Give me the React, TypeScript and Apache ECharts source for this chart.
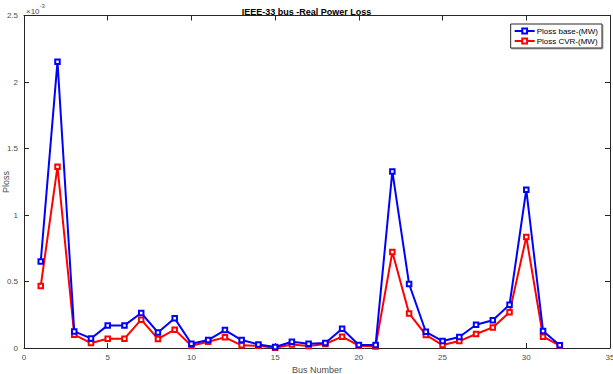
import React, { useEffect, useRef } from "react";
import * as echarts from "echarts";

const buses = Array.from({ length: 32 }, (_, i) => i + 1);
const plossBase = [0.651, 2.153, 0.125, 0.072, 0.17, 0.17, 0.263, 0.117, 0.223, 0.032, 0.06, 0.135, 0.06, 0.027, 0.008, 0.047, 0.032, 0.037, 0.145, 0.022, 0.022, 1.328, 0.481, 0.122, 0.052, 0.083, 0.175, 0.208, 0.326, 1.19, 0.128, 0.02];
const plossCvr = [0.466, 1.363, 0.1, 0.037, 0.07, 0.07, 0.213, 0.068, 0.138, 0.017, 0.047, 0.08, 0.02, 0.017, 0.002, 0.027, 0.015, 0.03, 0.085, 0.017, 0.012, 0.722, 0.26, 0.098, 0.022, 0.052, 0.105, 0.155, 0.268, 0.835, 0.085, 0.017];
const seriesNames = ["Ploss base-(MW)", "Ploss CVR-(MW)"];
const seriesColors = ["#0000ff", "#ff0000"];

const FONT = "Liberation Sans, Arial, sans-serif";
const AXIS_COLOR = "#262626";
const LABEL_COLOR = "#4d4d4d";

export default function App() {
  const ref = useRef<HTMLDivElement>(null);
  useEffect(() => {
    if (!ref.current) return;
    const chart = echarts.init(ref.current, undefined, { renderer: "svg" });
    const axisCommon = {
      type: "value" as const,
      axisLine: { show: true, onZero: false, lineStyle: { color: AXIS_COLOR, width: 1 } },
      axisTick: { show: true, inside: true, length: 5, lineStyle: { color: AXIS_COLOR } },
      splitLine: { show: false },
    };
    chart.setOption({
      animation: false,
      backgroundColor: "#ffffff",
      title: {
        text: "IEEE-33 bus -Real Power Loss",
        left: "center",
        top: 2,
        textStyle: { fontFamily: FONT, fontSize: 9, fontWeight: "bold", color: "#000" },
      },
      legend: {
        data: seriesNames,
        orient: "vertical",
        right: 11,
        top: 24,
        itemWidth: 20,
        itemHeight: 6,
        itemGap: 2,
        padding: [3, 4, 3, 3],
        borderColor: "#262626",
        borderWidth: 1,
        backgroundColor: "#fff",
        shadowColor: "rgba(0,0,0,0.3)",
        shadowOffsetX: 1,
        shadowOffsetY: 1,
        textStyle: { fontFamily: FONT, fontSize: 8, color: "#000", padding: [0, 0, 0, -3] },
      },
      grid: { left: 24, right: 3, top: 15.5, bottom: 26, containLabel: false, outerBoundsMode: "none" },
      xAxis: [
        {
          ...axisCommon,
          min: 0,
          max: 35,
          interval: 5,
          name: "Bus Number",
          nameLocation: "middle",
          nameGap: 15,
          nameTextStyle: { fontFamily: FONT, fontSize: 9, color: LABEL_COLOR },
          axisLabel: { fontFamily: FONT, fontSize: 8, color: LABEL_COLOR, margin: 5 },
        },
        {
          ...axisCommon,
          position: "top",
          min: 0,
          max: 35,
          interval: 5,
          axisLabel: { show: false },
        },
      ],
      yAxis: [
        {
          ...axisCommon,
          min: 0,
          max: 2.5,
          interval: 0.5,
          axisLabel: { fontFamily: FONT, fontSize: 8, color: LABEL_COLOR, margin: 6 },
        },
        {
          ...axisCommon,
          position: "right",
          min: 0,
          max: 2.5,
          interval: 0.5,
          axisLabel: { show: false },
        },
      ],
      graphic: [
        {
          type: "text",
          left: 26,
          top: 3,
          style: {
            text: "{a|×10}{b|-3}",
            rich: {
              a: { fontFamily: FONT, fontSize: 8, fill: LABEL_COLOR, padding: [4, 0, 0, 0] },
              b: { fontFamily: FONT, fontSize: 6, fill: LABEL_COLOR, verticalAlign: "top" },
            },
          },
        },
        {
          type: "text",
          x: 5.5,
          y: 182,
          rotation: Math.PI / 2,
          style: {
            text: "Ploss",
            fontFamily: FONT,
            fontSize: 9,
            fill: LABEL_COLOR,
            align: "center",
            verticalAlign: "middle",
          },
        },
      ],
      series: [plossBase, plossCvr].map((vals, i) => ({
        name: seriesNames[i],
        type: "line",
        data: buses.map((b, j) => [b, vals[j]]),
        symbol: "emptyRect",
        symbolSize: 4.5,
        showSymbol: true,
        color: seriesColors[i],
        lineStyle: { color: seriesColors[i], width: 2 },
        itemStyle: { color: seriesColors[i], borderColor: seriesColors[i], borderWidth: 1.5 },
        z: 2 - i,
      })),
    });
    return () => chart.dispose();
  }, []);
  return (
    <div
      ref={ref}
      style={{ position: "absolute", left: 0, top: 0, width: 613, height: 374 }}
    />
  );
}
